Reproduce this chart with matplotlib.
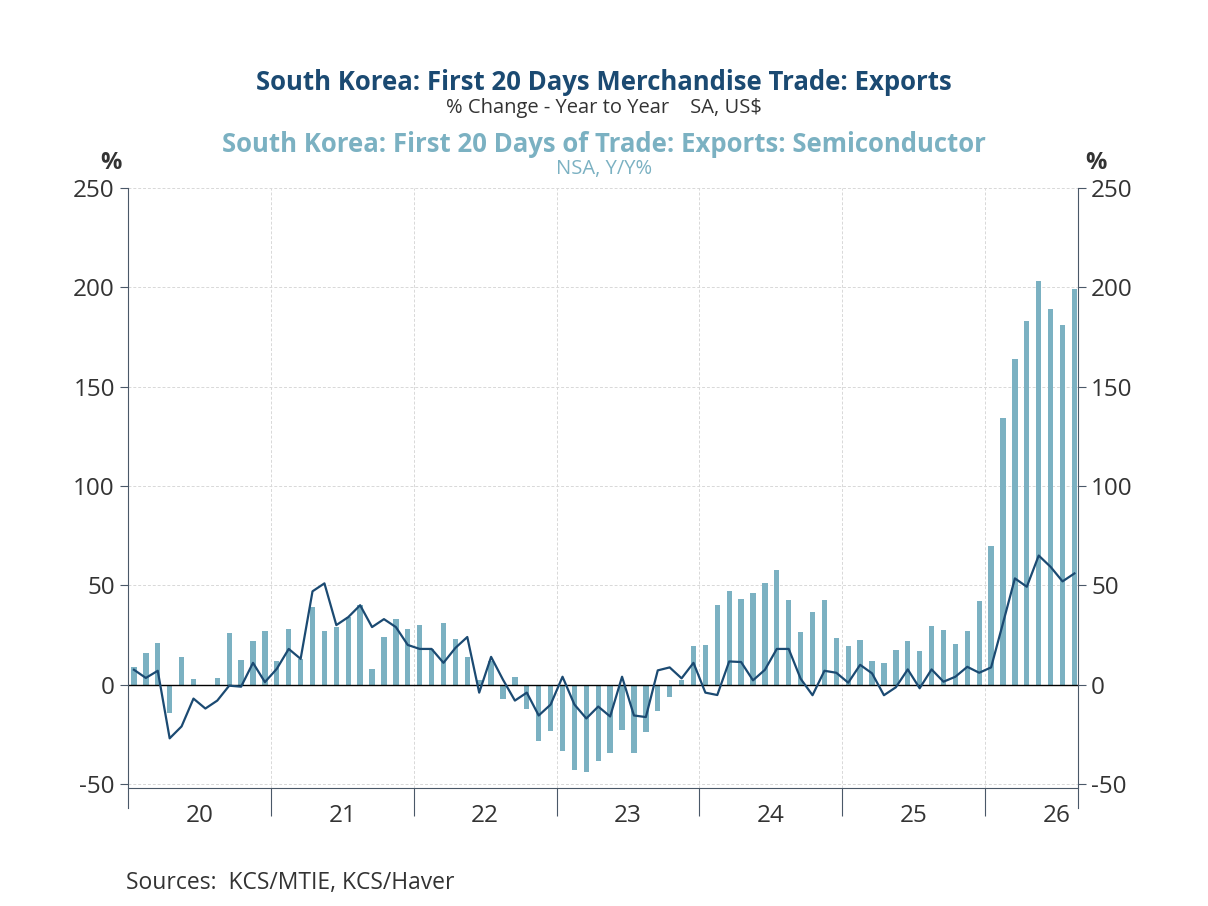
import numpy as np
import matplotlib.pyplot as plt

plt.rcParams["font.family"] = ["Open Sans", "DejaVu Sans"]
plt.rcParams["axes.unicode_minus"] = False

# Monthly data, Jan 2020 .. Aug 2026
semis = [9, 16, 21, -14, 14, 3, -0.5, 3.5, 26, 12.6, 22, 27,
         12, 28, 13, 39, 27, 29, 34, 40, 8, 24, 33, 28,
         30, 18, 31, 23, 14, 2.5, 12, -7, 4, -12, -28.5, -23.5,
         -33.5, -43, -44, -38.6, -34.4, -23, -34.4, -24, -13.4, -6, 2.5, 19.6,
         20, 40, 47, 43, 46, 51, 57.7, 42.7, 26.7, 36.7, 42.7, 23.7,
         19.7, 22.7, 12, 11, 17.7, 22, 17, 29.7, 27.7, 20.7, 27, 42,
         70, 134, 164, 183, 203, 189, 181, 199]
exports = [7.5, 3.4, 7, -27, -21, -7, -12, -8, -0.5, -1, 11, 1.3,
           8, 18, 13, 47, 51, 30, 34, 40, 29, 33, 29, 20,
           18, 18, 11, 18.5, 24, -4, 14, 2.5, -8, -4, -15.5, -10,
           4, -10, -17, -11, -16, 4, -15.5, -16.3, 7.2, 8.7, 3.2, 11,
           -4, -5.2, 11.7, 11.4, 2.2, 7.5, 18, 18, 3, -5.3, 7, 6,
           1, 10, 5.7, -5.3, -1.3, 7.7, -1.8, 7.7, 1.5, 4, 9, 6,
           8.7, 31, 53.5, 49.3, 65, 59.3, 52, 56]
years = ["20", "21", "22", "23", "24", "25", "26"]

dark = "#1b4a72"
light = "#7bb1c2"
axcol = "#4a5868"

x = np.arange(len(semis))

fig = plt.figure(figsize=(12.08, 9.06), dpi=100)
ax = fig.add_axes([128 / 1208, 1 - 788 / 906, 950 / 1208, 600 / 906])
ax.bar(x, semis, width=0.45, color=light, zorder=2)
ax.plot(x, exports, color=dark, lw=1.6, zorder=3)
ax.axhline(0, color="black", lw=1, zorder=2.5)

ax.set_xlim(-0.5, 79.3)
ax.set_ylim(-52, 250)
ax.set_yticks(np.arange(-50, 251, 50))
ax.tick_params(axis="y", labelsize=17.5, colors=axcol, labelcolor="#333333", length=6)
ax.tick_params(axis="y", which="both", right=True, labelright=True)
bounds = np.arange(11.5, 79, 12)
ax.set_xticks(bounds)
ax.set_xticklabels([])
ax.tick_params(axis="x", length=20, colors=axcol)
for i, yl in enumerate(years):
    ax.text(12 * i + 5.5, -60, yl, ha="center", va="top", fontsize=17.5, color="#333333")
ax.grid(True, color="#d8d8d8", ls=(0, (3, 2)), lw=0.7, zorder=0)
ax.spines["top"].set_visible(False)
for s in ["left", "right", "bottom"]:
    ax.spines[s].set_color(axcol)
ax.spines["left"].set_bounds(-62, 250)
ax.spines["right"].set_bounds(-62, 250)

fig.text(0.5, 1 - 83 / 906, "South Korea: First 20 Days Merchandise Trade: Exports",
         ha="center", va="center", fontsize=18.5, fontweight="bold", color=dark)
fig.text(0.5, 1 - 108 / 906, "% Change - Year to Year    SA, US$",
         ha="center", va="center", fontsize=14.5, color="#333333")
fig.text(0.5, 1 - 145 / 906, "South Korea: First 20 Days of Trade: Exports: Semiconductor",
         ha="center", va="center", fontsize=18.5, fontweight="bold", color=light)
fig.text(0.5, 1 - 169 / 906, "NSA, Y/Y%", ha="center", va="center", fontsize=14.5, color=light)
fig.text(111 / 1208, 1 - 163 / 906, "%", ha="center", va="center", fontsize=17,
         fontweight="bold", color="#333333")
fig.text(1096 / 1208, 1 - 163 / 906, "%", ha="center", va="center", fontsize=17,
         fontweight="bold", color="#333333")
fig.text(126 / 1208, 1 - 883 / 906, "Sources:  KCS/MTIE, KCS/Haver",
         ha="left", va="center", fontsize=16.5, color="#333333")

fig.savefig("out.png", dpi=100)
